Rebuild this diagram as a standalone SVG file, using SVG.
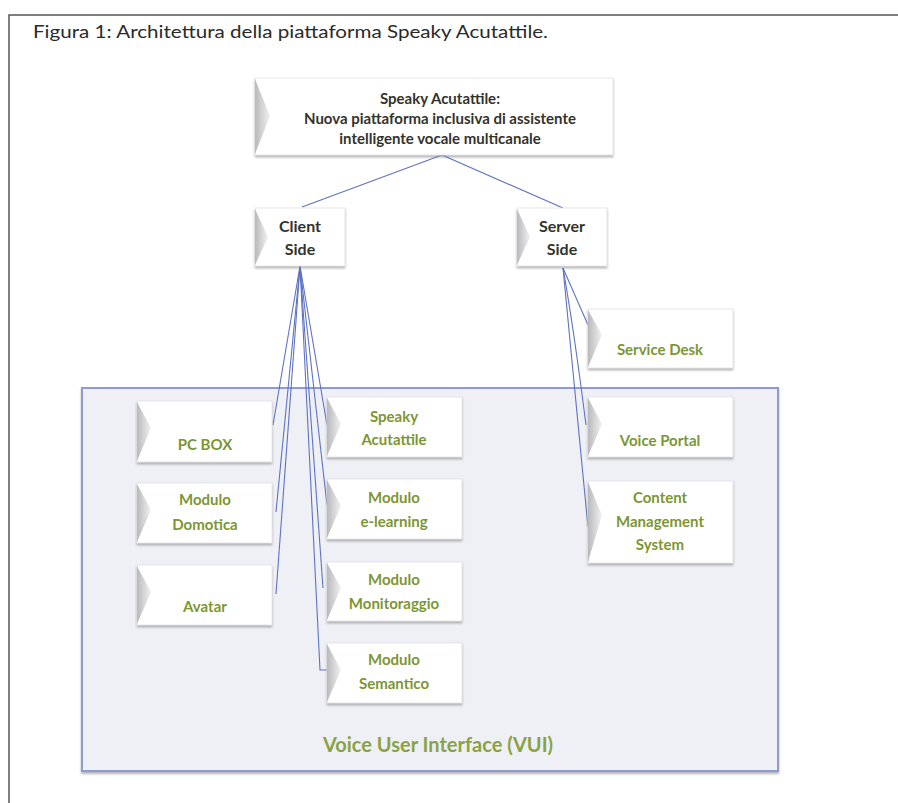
<svg xmlns="http://www.w3.org/2000/svg" width="898" height="803" viewBox="0 0 898 803">
<defs>
<linearGradient id="bev" x1="0" y1="0" x2="1" y2="0">
<stop offset="0" stop-color="#b9b9bb"/>
<stop offset="1" stop-color="#f2f2f3"/>
</linearGradient>
<filter id="sh" x="-10%" y="-10%" width="120%" height="130%">
<feDropShadow dx="0" dy="2" stdDeviation="1.2" flood-color="#777" flood-opacity="0.55"/>
</filter>
<style>
.box{fill:#ffffff;stroke:#e2e2e6;stroke-width:0.8;filter:url(#sh)}
.bev{fill:url(#bev)}
.dk{font-family:Lato,"Liberation Sans",sans-serif;font-weight:bold;fill:#33332b;text-anchor:middle}
.gr{font-family:Lato,"Liberation Sans",sans-serif;font-weight:bold;font-size:15px;fill:#7c9634;text-anchor:middle}
.cn{fill:none;stroke:#5d72c2;stroke-width:1.1}
</style>
</defs>
<rect width="898" height="803" fill="#ffffff"/>
<path d="M9 803 V15 H898" fill="none" stroke="#555" stroke-width="1.5"/>
<text x="33" y="38" font-family="Lato,'Liberation Sans',sans-serif" font-size="18" fill="#2a2a2a" textLength="515" lengthAdjust="spacingAndGlyphs">Figura 1: Architettura della piattaforma Speaky Acutattile.</text>

<g id="vui">
<rect x="82" y="388" width="696" height="383" fill="#eef0f5" stroke="#8c9ad6" stroke-width="2" filter="url(#sh)"/>
<text x="438" y="752" font-family="Lato,'Liberation Sans',sans-serif" font-size="20" font-weight="bold" fill="#8ba244" text-anchor="middle">Voice User Interface (VUI)</text>
</g>

<g id="connectors">
<path class="cn" d="M442 155 L302 207"/>
<path class="cn" d="M442 155 L563 208" stroke-width="1.6"/>
<path class="cn" d="M300 266 L273 425"/>
<path class="cn" d="M300 266 L276 512"/>
<path class="cn" d="M300 266 L276 594"/>
<path class="cn" d="M300 266 L327 425"/>
<path class="cn" d="M300 266 L327 505"/>
<path class="cn" d="M300 266 L323 588"/>
<path class="cn" d="M300 266 L320 670 L327 670"/>
<path class="cn" d="M563 268 L588 325"/>
<path class="cn" d="M563 268 Q574 330 586 425"/>
<path class="cn" d="M563 268 L588 527"/>
</g>

<g id="top">
<rect class="box" x="255" y="78" width="358" height="77"/>
<polygon class="bev" points="255,79 270,116 255,154"/>
<text class="dk" font-size="15" x="440" y="104">Speaky Acutattile:</text>
<text class="dk" font-size="15" x="440" y="124">Nuova piattaforma inclusiva di assistente</text>
<text class="dk" font-size="15" x="440" y="144">intelligente vocale multicanale</text>
</g>

<g id="client">
<rect class="box" x="255" y="208" width="90" height="58"/>
<polygon class="bev" points="255,209 268,237 255,265"/>
<text class="dk" font-size="16" x="300" y="232">Client</text>
<text class="dk" font-size="16" x="300" y="255">Side</text>
</g>

<g id="server">
<rect class="box" x="517" y="208" width="90" height="58"/>
<polygon class="bev" points="517,209 530,237 517,265"/>
<text class="dk" font-size="16" x="562" y="232">Server</text>
<text class="dk" font-size="16" x="562" y="255">Side</text>
</g>

<g id="servicedesk">
<rect class="box" x="588" y="309" width="145" height="59"/>
<polygon class="bev" points="588,310 602,335 588,367"/>
<text class="gr" x="660" y="355">Service Desk</text>
</g>

<g id="pcbox">
<rect class="box" x="137" y="401" width="135" height="61"/>
<polygon class="bev" points="137,402 151,428 137,461"/>
<text class="gr" x="205" y="450">PC BOX</text>
</g>

<g id="speaky">
<rect class="box" x="327" y="397" width="135" height="60"/>
<polygon class="bev" points="327,398 341,424 327,456"/>
<text class="gr" x="394" y="422">Speaky</text>
<text class="gr" x="394" y="445">Acutattile</text>
</g>

<g id="domotica">
<rect class="box" x="137" y="483" width="135" height="60"/>
<polygon class="bev" points="137,484 151,510 137,542"/>
<text class="gr" x="205" y="505">Modulo</text>
<text class="gr" x="205" y="530">Domotica</text>
</g>

<g id="elearning">
<rect class="box" x="327" y="479" width="135" height="60"/>
<polygon class="bev" points="327,480 341,506 327,538"/>
<text class="gr" x="394" y="503">Modulo</text>
<text class="gr" x="394" y="527">e-learning</text>
</g>

<g id="avatar">
<rect class="box" x="137" y="565" width="135" height="60"/>
<polygon class="bev" points="137,566 151,592 137,624"/>
<text class="gr" x="205" y="612">Avatar</text>
</g>

<g id="monitoraggio">
<rect class="box" x="327" y="562" width="135" height="59"/>
<polygon class="bev" points="327,563 341,588 327,620"/>
<text class="gr" x="394" y="585">Modulo</text>
<text class="gr" x="394" y="609">Monitoraggio</text>
</g>

<g id="semantico">
<rect class="box" x="327" y="643" width="135" height="60"/>
<polygon class="bev" points="327,644 341,670 327,702"/>
<text class="gr" x="394" y="665">Modulo</text>
<text class="gr" x="394" y="689">Semantico</text>
</g>

<g id="voiceportal">
<rect class="box" x="588" y="397" width="145" height="60"/>
<polygon class="bev" points="588,398 602,424 588,456"/>
<text class="gr" x="660" y="446">Voice Portal</text>
</g>

<g id="cms">
<rect class="box" x="588" y="481" width="145" height="82"/>
<polygon class="bev" points="588,482 602,515 588,562"/>
<text class="gr" x="660" y="503">Content</text>
<text class="gr" x="660" y="527">Management</text>
<text class="gr" x="660" y="550">System</text>
</g>
</svg>
